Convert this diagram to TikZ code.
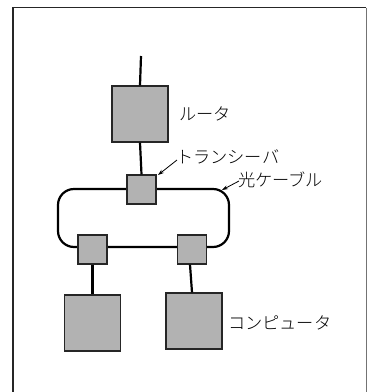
\documentclass[tikz,border=0pt]{standalone}
\usepackage{fontspec}
\newfontfamily\jp{Noto Sans CJK JP Light}
\usetikzlibrary{arrows.meta}
\begin{document}
\begin{tikzpicture}[x=1pt,y=-1pt,
  device/.style={draw=black!85,line width=1.2pt,fill=black!30,minimum width=#1,minimum height=#1,inner sep=0pt},
  wire/.style={line width=2.2pt,black},
  lbl/.style={font=\jp\fontsize{17.2}{17}\selectfont,inner sep=0pt,anchor=west},
  pointer/.style={line width=0.8pt,-{Stealth[length=6pt,width=4pt]}}]
\useasboundingbox (0,0) rectangle (367,392);
% frame
\draw[line width=1.3pt,black!85] (13,392) -- (13,7.5) -- (366,7.5);
\draw[line width=1pt,black!55] (366,7.5) -- (366,392);
% optical ring
\draw[wire,rounded corners=16pt] (58,189) rectangle (229,247);
% devices
\coordinate (up) at (141,56);
\node[device=56pt] (router) at (140,114) {};
\node[device=29pt] (tt) at (141.5,189.5) {};
\node[device=29pt] (tl) at (92.5,249.5) {};
\node[device=29pt] (tr) at (192,249.5) {};
\node[device=56pt] (pcl) at (92.5,323) {};
\node[device=56pt] (pcr) at (194,321) {};
\draw[wire] (up) -- (router.north);
\draw[wire] (router.south) -- (tt.north);
\draw[wire] (tl.south) -- (pcl.north);
\draw[wire] ([xshift=-2pt]tr.south) -- ([xshift=-2pt]pcr.north);
% labels
\node[lbl] (lr) at (179,114) {ルータ};
\node[lbl] (lt) at (176,157) {トランシーバ};
\node[lbl] (lc) at (238,180) {光ケーブル};
\node[lbl] (lp) at (228,323) {コンピュータ};
\coordinate (tarrow) at (158,175);
\coordinate (carrow) at (222,190);
\draw[pointer] (lt.west) ++(1,3) -- (tarrow);
\draw[pointer] (lc.west) ++(1,1) -- (carrow);
\end{tikzpicture}
\end{document}
